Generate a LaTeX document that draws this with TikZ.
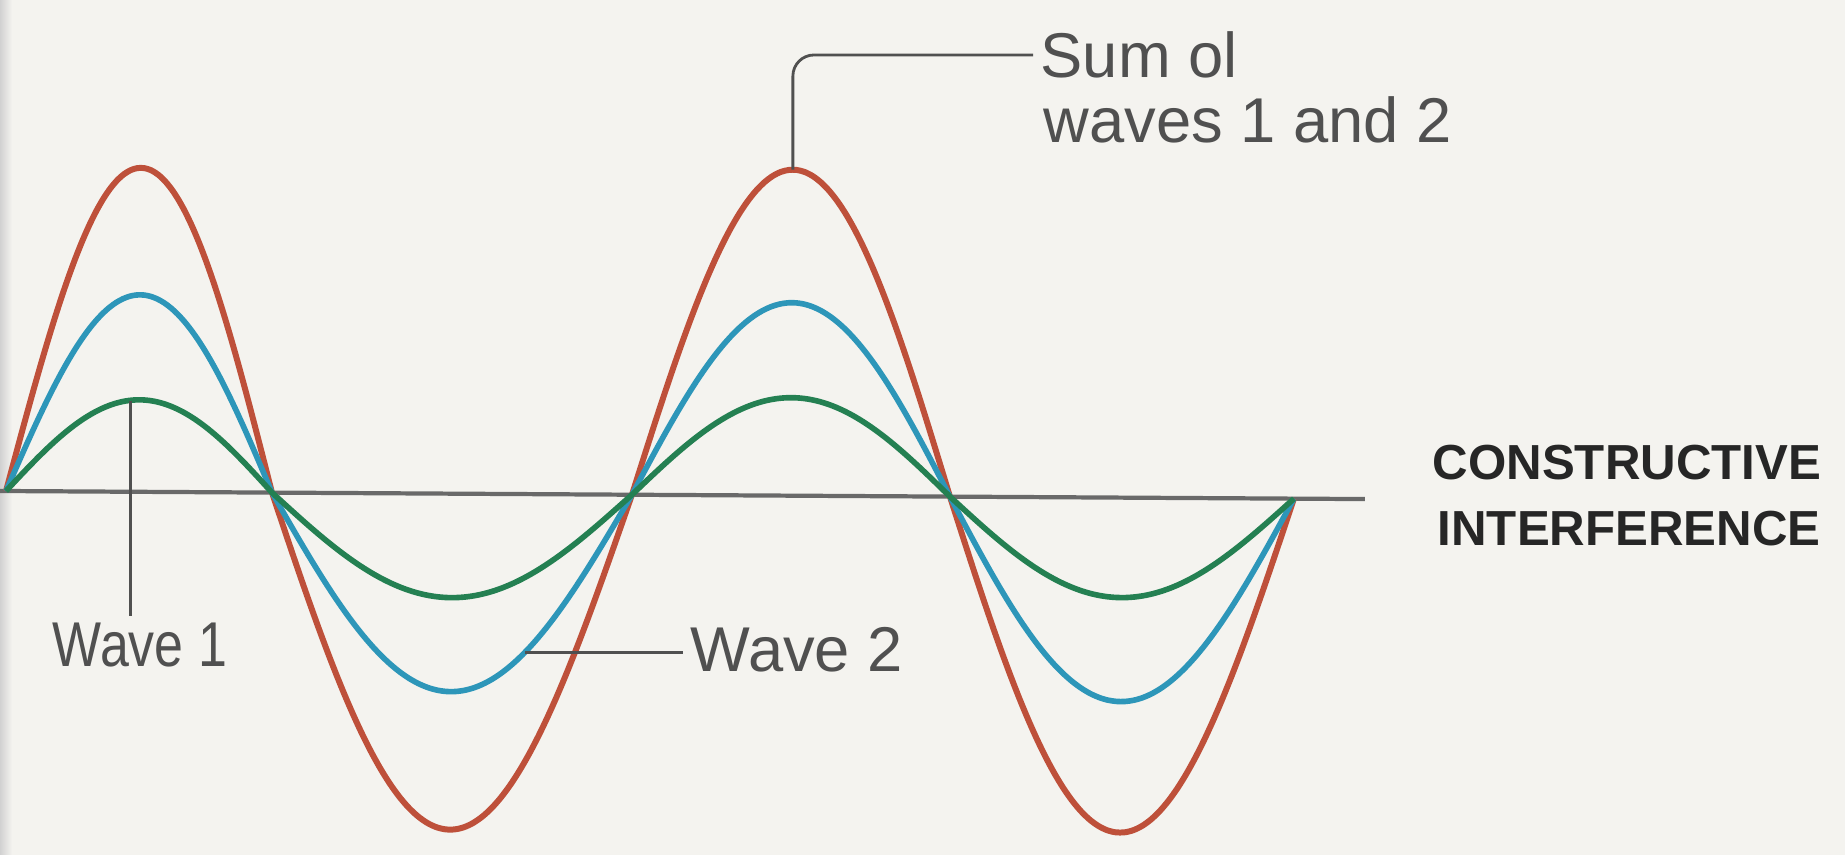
\documentclass[tikz,border=0pt]{standalone}
\usepackage{fontspec}
\setmainfont{Liberation Sans}
\usepackage{tikz}
\usetikzlibrary{positioning, calc}
\usepackage{xcolor}

\definecolor{paper}{RGB}{244,243,239}
\definecolor{sumred}{RGB}{190,80,58}
\definecolor{wave2blue}{RGB}{45,150,185}
\definecolor{wave1green}{RGB}{36,128,82}
\definecolor{axisgrey}{RGB}{105,105,105}
\definecolor{inkgrey}{RGB}{80,80,80}

\begin{document}
\begin{tikzpicture}[x=0.01cm, y=0.01cm,
  sumwave/.style={sumred, line width=1.7pt, line join=round},
  bluewave/.style={wave2blue, line width=1.6pt, line join=round},
  greenwave/.style={wave1green, line width=1.6pt, line join=round},
  zeroline/.style={axisgrey, line width=1.2pt},
  leader/.style={inkgrey, line width=0.8pt},
  lbl/.style={text=inkgrey, font=\fontsize{18}{22}\selectfont, inner sep=2pt},
  titletext/.style={text=black!85, font=\fontsize{14}{18}\selectfont\bfseries, inner sep=0pt}]
\fill[paper] (0,0) rectangle (1845,855);
\shade[left color=black!18, right color=paper] (0,0) rectangle (12,855);
\useasboundingbox (0,0) rectangle (1845,855);

% the waves sit on a very slightly tilted line
\begin{scope}[shift={(0,364)}, rotate=-0.34]
  \draw[zeroline] (0,0) -- (1365,0);
  % sum of the two
  \draw[sumwave] (6,0) \foreach \xa/\xb/\amp in {6/272/324, 272/632/-336, 632/950/326, 950/1294/-335}
    { -- plot[domain=\xa:\xb, samples=40, smooth] (\x, {\amp*sin((180/(\xb-\xa))*(\x-\xa))}) };
  % wave 2
  \draw[bluewave] (6,0) \foreach \xa/\xb/\amp in {6/272/197, 272/632/-198, 632/950/193, 950/1294/-204}
    { -- plot[domain=\xa:\xb, samples=40, smooth] (\x, {\amp*sin((180/(\xb-\xa))*(\x-\xa))}) };
  % wave 1
  \draw[greenwave] (6,0) \foreach \xa/\xb/\amp in {6/272/92, 272/632/-104, 632/950/98, 950/1294/-100}
    { -- plot[domain=\xa:\xb, samples=40, smooth] (\x, {\amp*sin((180/(\xb-\xa))*(\x-\xa))}) };
  \coordinate (redtop) at (791,326);
  \coordinate (greentop) at (130,91);
  \coordinate (bluept) at (526,-158);
\end{scope}

\node[lbl, anchor=west] (sum1) at (1033,800) {Sum ol};
\node[lbl, anchor=base west] (sum2) at (1036,712) {waves 1 and 2};
\node[lbl, anchor=base] (w1) at (140,188) {\scalebox{0.82}[1]{Wave 1}};
\node[lbl, anchor=base west] (w2) at (683,183) {Wave 2};
\node[titletext, anchor=base west] (con1) at (1432,375) {CONSTRUCTIVE};
\node[titletext, anchor=base west] (con2) at (1437,309) {INTERFERENCE};

\draw[leader, rounded corners=6pt] (redtop) |- (sum1.west);
\draw[leader] (greentop) -- (greentop |- w1.north);
\draw[leader] (bluept) -- (bluept -| w2.west);
\end{tikzpicture}
\end{document}
